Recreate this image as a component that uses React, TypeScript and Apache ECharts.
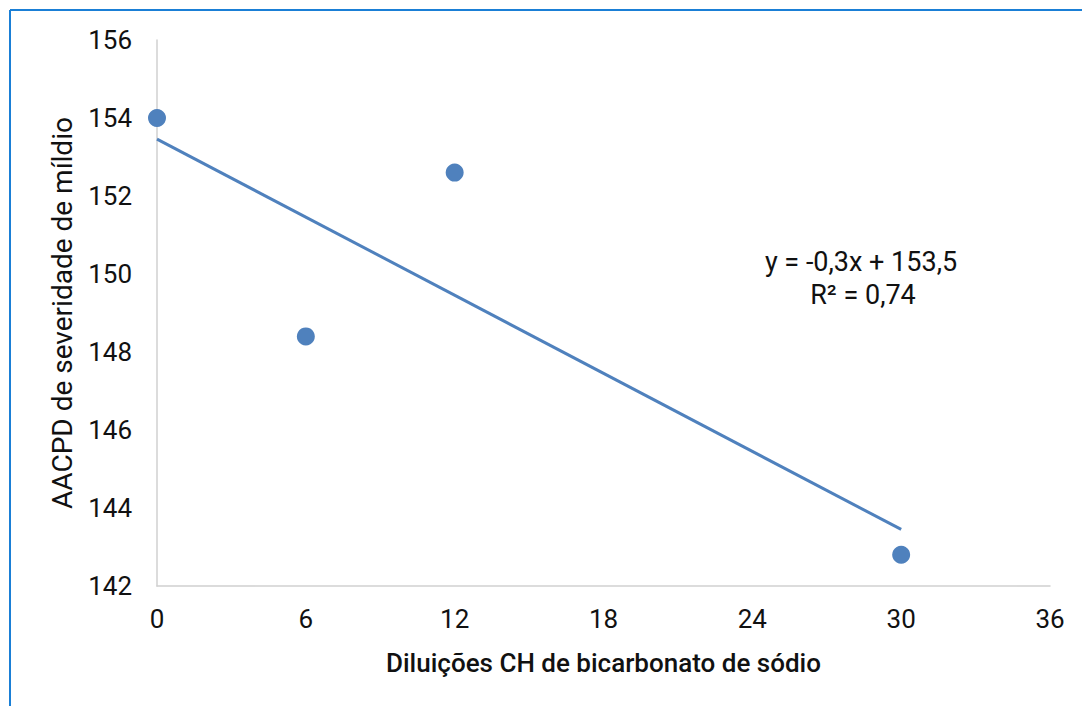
import React, { useEffect, useRef } from "react";
import * as echarts from "echarts";

const dilutions = [0, 6, 12, 30];
const aacpd = [154.0, 148.4, 152.6, 142.8];
const trendX = [0, 30];
const trendY = [153.46, 143.45];
const equationText = "y = -0,3x + 153,5";
const r2Text = "R² = 0,74";
const xTitle = "Diluições CH de bicarbonato de sódio";
const yTitle = "AACPD de severidade de míldio";

const FONT = "Roboto, sans-serif";

export default function App() {
  const ref = useRef<HTMLDivElement>(null);
  useEffect(() => {
    if (!ref.current) return;
    const chart = echarts.init(ref.current, null, { renderer: "svg" });
    chart.setOption({
      animation: false,
      textStyle: { fontFamily: FONT },
      grid: { left: 157, right: 32, top: 40, bottom: 120 },
      graphic: [
        { type: "line", shape: { x1: 10, y1: 10, x2: 1082, y2: 10 }, style: { stroke: "#1a7fd6", lineWidth: 2 } },
        { type: "line", shape: { x1: 10, y1: 10, x2: 10, y2: 706 }, style: { stroke: "#1a7fd6", lineWidth: 2 } },
        {
          type: "text",
          x: 861,
          y: 262,
          style: {
            text: equationText,
            font: "27px " + FONT,
            fill: "#111",
            align: "center",
            verticalAlign: "middle",
          },
        },
        {
          type: "text",
          x: 863,
          y: 295,
          style: {
            text: r2Text,
            font: "27px " + FONT,
            fill: "#111",
            align: "center",
            verticalAlign: "middle",
          },
        },
      ],
      xAxis: {
        type: "value",
        min: 0,
        max: 36,
        interval: 6,
        name: xTitle,
        nameLocation: "middle",
        nameGap: 64,
        nameTextStyle: { fontSize: 26, color: "#111", fontFamily: FONT, fontWeight: 500 },
        axisLine: { show: true, lineStyle: { color: "#d0d0d0", width: 1.5 } },
        axisTick: { show: false },
        splitLine: { show: false },
        axisLabel: { fontSize: 26, color: "#111", margin: 20, fontFamily: FONT },
      },
      yAxis: {
        type: "value",
        min: 142,
        max: 156,
        interval: 2,
        name: yTitle,
        nameLocation: "middle",
        nameGap: 81,
        nameTextStyle: { fontSize: 28, color: "#111", fontFamily: FONT },
        axisLine: { show: true, lineStyle: { color: "#d0d0d0", width: 1.5 } },
        axisTick: { show: false },
        splitLine: { show: false },
        axisLabel: { fontSize: 26, color: "#111", margin: 25, fontFamily: FONT },
      },
      series: [
        {
          type: "line",
          data: trendX.map((x, i) => [x, trendY[i]]),
          showSymbol: false,
          symbol: "none",
          lineStyle: { color: "#4f81bd", width: 3 },
          z: 2,
        },
        {
          type: "scatter",
          data: dilutions.map((x, i) => [x, aacpd[i]]),
          symbolSize: 18,
          itemStyle: { color: "#4f81bd", opacity: 1 },
          z: 3,
        },
      ],
    });
    return () => chart.dispose();
  }, []);
  return <div ref={ref} style={{ width: 1082, height: 706, position: "absolute", left: 0, top: 0 }} />;
}
